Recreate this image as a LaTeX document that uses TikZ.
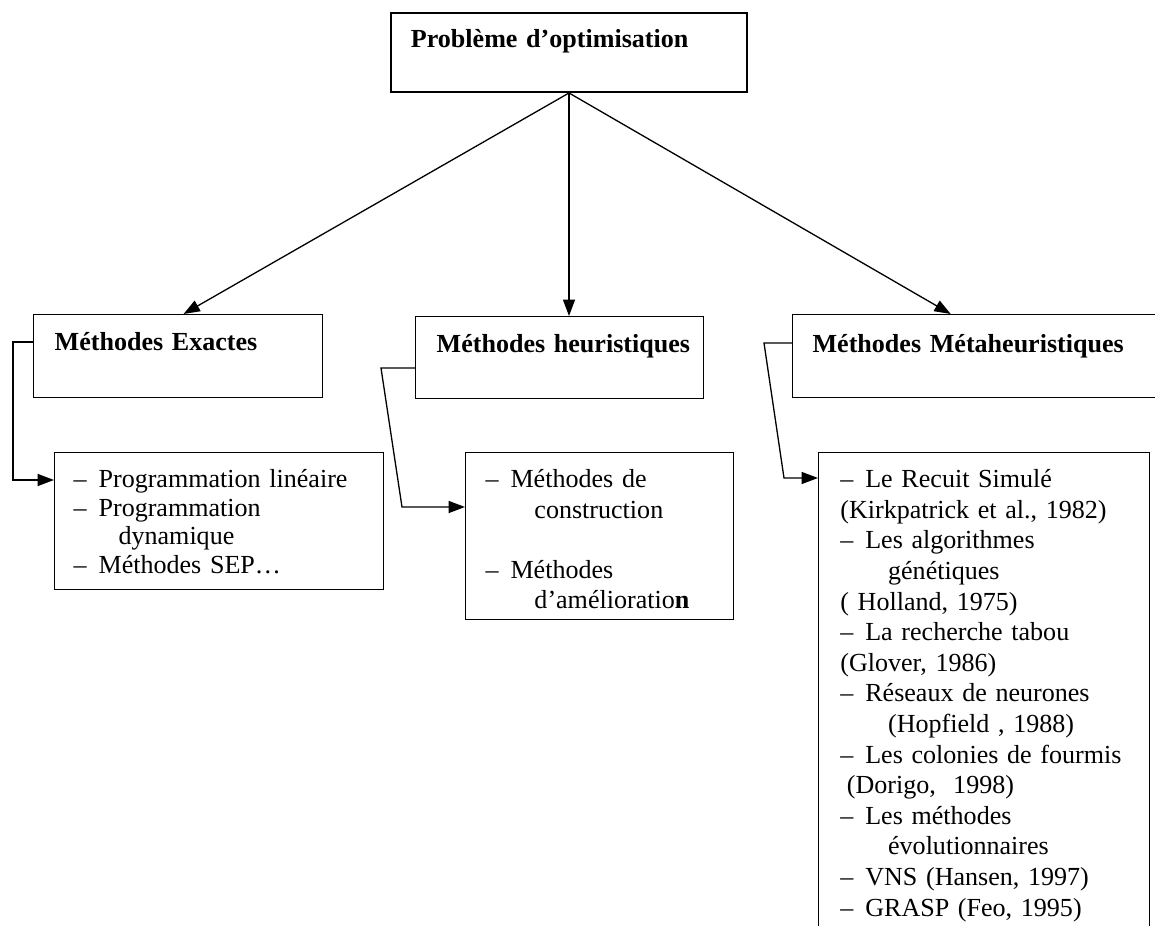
\documentclass[tikz,border=0pt]{standalone}
\usepackage{fontspec}
\setmainfont{Liberation Serif}
\usetikzlibrary{arrows.meta}
\newcommand{\itm}{\makebox[11.5pt][l]{–}}
\tikzset{
  box/.style={draw, line width=0.6pt, anchor=north west, inner ysep=0pt, align=left},
  headbox/.style={box, font=\fontsize{12pt}{14pt}\selectfont\bfseries},
  listbox/.style={box, font=\fontsize{12pt}{#1}\selectfont},
  link/.style={line width=0.6pt, -{Triangle[length=7.5pt,width=5.5pt]}}
}

\begin{document}
\begin{tikzpicture}[x=0.4606pt, y=-0.4606pt]
   \clip (0,0) rectangle (1155,926);

   \node[headbox, line width=0.9pt, inner xsep=9.2pt, text width=145.6pt,
         text height=16.1pt, text depth=20.3pt] (prob) at (390,12)
         {Problème d’optimisation};

   \node[headbox, inner xsep=9.7pt, text width=113.7pt,
         text height=16.6pt, text depth=21.6pt] (exa) at (33,314)
         {\mbox{Méthodes Exactes}};
   \node[headbox, inner xsep=9.7pt, text width=113.2pt,
         text height=16.6pt, text depth=21.2pt] (heu) at (415,316)
         {\mbox{Méthodes heuristiques}};
   \node[headbox, inner xsep=9.2pt, text width=152pt,
         text height=17.5pt, text depth=20.7pt] (meta) at (792,314)
         {\mbox{Méthodes Métaheuristiques}};

   \node[listbox=13.2pt, inner xsep=8.75pt, text width=134pt,
         text height=16.1pt, text depth=47pt] (exalist) at (54,452)
         {\itm Programmation linéaire\\
          \itm Programmation\\
          \hspace*{20.7pt}dynamique\\
          \itm Méthodes SEP…};
   \node[listbox=13.8pt, inner xsep=9.2pt, text width=105pt,
         text height=16.1pt, text depth=60.8pt] (heulist) at (465,452)
         {\itm Méthodes de\\[0.5pt]
          \hspace*{22.5pt}construction\\[13.8pt]
          \itm Méthodes\\
          \hspace*{22.5pt}d’amélioratio\textbf{n}};
   \node[listbox=14.1pt, inner xsep=10pt, text width=132.5pt,
         text height=16.1pt, text depth=215pt] (metalist) at (818,452)
         {\itm Le Recuit Simulé\\
          (Kirkpatrick et al., 1982)\\
          \itm Les algorithmes\\
          \hspace*{22pt}génétiques\\
          ( Holland, 1975)\\
          \itm La recherche tabou\\
          (Glover, 1986)\\
          \itm Réseaux de neurones\\
          \hspace*{22pt}(Hopfield , 1988)\\
          \itm Les colonies de fourmis\\
          \hspace*{3pt}(Dorigo,\ \ 1998)\\
          \itm Les méthodes\\
          \hspace*{22pt}évolutionnaires\\
          \itm VNS (Hansen, 1997)\\
          \itm GRASP (Feo, 1995)};

   \draw[link] (prob.south) -- ([xshift=2.5pt]exa.north);
   \draw[link] (prob.south) -- (prob.south |- heu.north);
   \draw[link] (prob.south) -- ([xshift=-12.4pt]meta.north);

   \coordinate (exaA) at (13,342);
   \coordinate (exaB) at (13,480);
   \draw[link] (exa.west |- exaA) -- (exaA) -- (exaB) -- (exalist.west |- exaB);
   \coordinate (heuA) at (381,368);
   \coordinate (heuB) at (402,507);
   \draw[link] (heu.west |- heuA) -- (heuA) -- (heuB) -- (heulist.west |- heuB);
   \coordinate (metaA) at (764,343);
   \coordinate (metaB) at (784,478);
   \draw[link] (meta.west |- metaA) -- (metaA) -- (metaB) -- (metalist.west |- metaB);
\end{tikzpicture}
\end{document}
